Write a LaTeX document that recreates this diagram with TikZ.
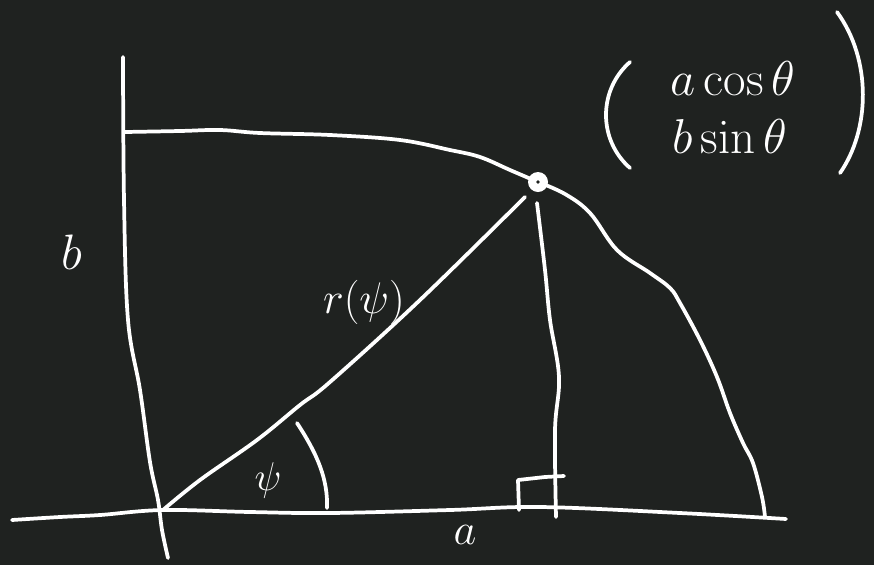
\documentclass[tikz,border=0pt]{standalone}
\definecolor{bgcol}{RGB}{31,34,32}
\begin{document}
\begin{tikzpicture}[x=0.75pt,y=-0.75pt,
  stroke/.style={draw=white,line width=2.8pt,line cap=round,line join=round},
  lbl/.style={text=white,inner sep=0pt,font=\huge}]
\fill[bgcol] (0,0) rectangle (874,565);
\useasboundingbox (0,0) rectangle (874,565);
% key points
\coordinate (O) at (163,510);
\coordinate (P) at (538,182);
\coordinate (Rtop) at (525,197);
\coordinate (Vtop) at (537,203);
\coordinate (Vbot) at (556,517);
% axes
\draw[stroke] plot[smooth,tension=0.6] coordinates {(123,57) (124,200) (128,320) (140,390) (150,462) (158,500) (162,530) (168,558)};
\draw[stroke] plot[smooth,tension=0.6] coordinates {(12,520) (60,517) (100,515) (O) (250,512) (330,513) (450,510) (540,507) (680,513) (786,519)};
% ellipse quarter
\draw[stroke] plot[smooth,tension=0.6] coordinates {(125,132) (180,131) (220,130) (260,133) (330,135) (400,140) (450,150) (480,157) (510,170) (P)};
\draw[stroke] plot[smooth,tension=0.6] coordinates {(P) (565,194) (590,213) (617,250) (650,273) (670,288) (680,303) (700,340) (717,377) (730,413) (743,443) (753,463) (762,497) (765,517)};
% radius
\draw[stroke] plot[smooth,tension=0.6] coordinates {(O) (200,480) (257,440) (300,405) (330,382) (420,300) (Rtop)};
% vertical from point
\draw[stroke] plot[smooth,tension=0.6] coordinates {(Vtop) (545,270) (550,320) (559,377) (555,430) (Vbot)};
% right angle mark
\draw[stroke] (519,510) -- (518,480) -- (545,477) -- (564,476);
% angle arc
\draw[stroke] (297,423) .. controls (318,455) and (328,480) .. (327,508);
% point
\fill[white] (P) circle (10);
\fill[bgcol] (P) circle (1.8);
% labels
\node[lbl,scale=1.8] (lb) at (72,252) {$b$};
\node[lbl,scale=1.6] (la) at (465,535) {$a$};
\node[lbl,scale=1.45] (lpsi) at (268,480) {$\psi$};
\node[lbl,scale=1.6] (lr) at (364,302) {$r(\psi)$};
\node[lbl,scale=1.77] (l1) at (733,78) {$a\cos\theta$};
\node[lbl,scale=1.77] (l2) at (730,136) {$b\sin\theta$};
% parentheses
\draw[stroke] (630,62) .. controls (598,90) and (598,140) .. (630,168);
\draw[stroke] (837,12) .. controls (872,60) and (870,130) .. (840,173);
\end{tikzpicture}
\end{document}
